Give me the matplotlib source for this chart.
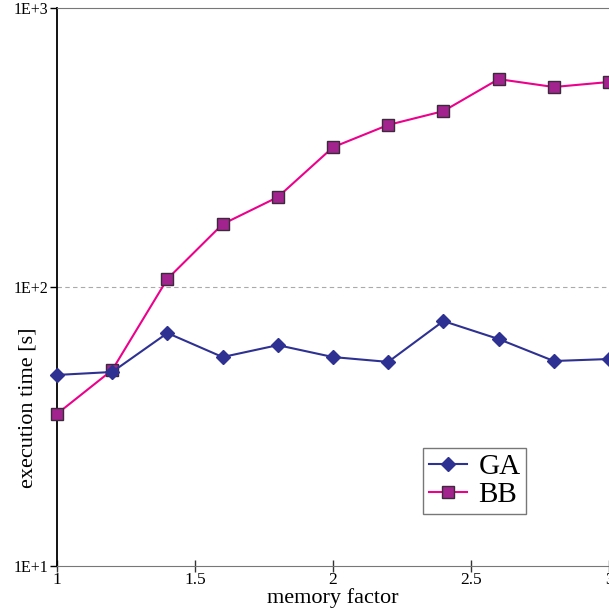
import matplotlib.pyplot as plt
from matplotlib.ticker import FixedLocator, NullLocator

plt.rcParams['font.family'] = ['Liberation Serif', 'DejaVu Serif']

memory_factor = [1.0, 1.2, 1.4, 1.6, 1.8, 2.0, 2.2, 2.4, 2.6, 2.8, 3.0]
ga_time = [48.4, 49.6, 68.4, 56.1, 61.9, 56.1, 53.9, 75.5, 65.1, 54.3, 55.2]
bb_time = [35.1, 50.4, 106.9, 168, 210, 317, 381, 427, 556, 521, 543]
y_ticks = [10, 100, 1000]
y_labels = ["1E+1", "1E+2", "1E+3"]
x_ticks = [1, 1.5, 2, 2.5, 3]
x_labels = ["1", "1.5", "2", "2.5", "3"]

fig = plt.figure(figsize=(6.09, 6.11), dpi=100)
ax = fig.add_axes([0.0936, 0.0736, 0.9064, 0.9133])

ax.plot(memory_factor, ga_time, color="#2e3192", lw=1.5, marker="D",
        ms=7, mfc="#2e3192", mec="#2e3192", label="GA", clip_on=False, zorder=4)
ax.plot(memory_factor, bb_time, color="#ec008c", lw=1.5, marker="s",
        ms=8, mfc="#a3238e", mec="#3a2a3a", mew=1.0, label="BB", clip_on=False, zorder=3)

ax.set_yscale("log")
ax.set_ylim(10, 1000)
ax.set_xlim(1, 3)
ax.yaxis.set_major_locator(FixedLocator(y_ticks))
ax.yaxis.set_minor_locator(NullLocator())
ax.set_yticklabels(y_labels)
ax.set_xticks(x_ticks)
ax.set_xticklabels(x_labels)
ax.axhline(100, color="#aaaaaa", lw=0.8, ls=(0, (4, 3)), zorder=1)

ax.spines["right"].set_visible(False)
ax.spines["top"].set_color("#777777")
ax.spines["bottom"].set_color("#777777")
ax.spines["left"].set_color("black")
ax.spines["left"].set_linewidth(1.3)

ax.tick_params(axis="y", direction="out", length=5, width=1, pad=1, labelsize=11.5)
ax.tick_params(axis="x", direction="inout", length=8, width=1, pad=0, labelsize=12.5,
               color="#333333")

ax.set_xlabel("memory factor", fontsize=16)
ax.xaxis.set_label_coords(0.5, -0.057, transform=ax.transAxes)
ax.xaxis.label.set_va("center")
ax.set_ylabel("execution time [s]", fontsize=16)
ax.yaxis.set_label_coords(-0.0525, 0.283, transform=ax.transAxes)
ax.yaxis.label.set_va("center")

leg = ax.legend(loc="lower left", bbox_to_anchor=(0.663, 0.093), fontsize=21,
                frameon=True, fancybox=False, handlelength=1.3,
                handletextpad=0.4, labelspacing=0.05, borderpad=0.2,
                borderaxespad=0)
leg.get_frame().set_edgecolor("#555555")
leg.get_frame().set_linewidth(1.0)

fig.savefig("out.png", dpi=100)
